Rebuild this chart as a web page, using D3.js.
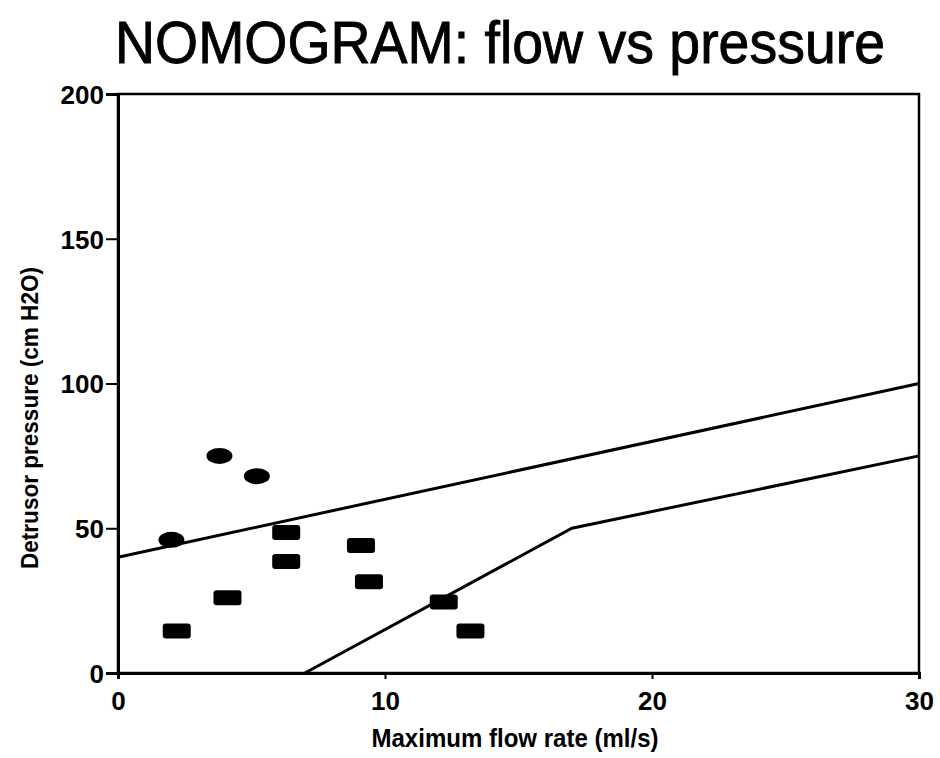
<!DOCTYPE html>
<html>
<head>
<meta charset="utf-8">
<script src="https://cdn.jsdelivr.net/npm/d3@7"></script>
<style>
  html, body { margin: 0; padding: 0; background: #fff; }
  svg { display: block; }
  text { font-family: "Liberation Sans", Arial, Helvetica, sans-serif; fill: #000; }
</style>
</head>
<body>
<svg id="chart" width="940" height="758"></svg>
<script>
// ---- data ----
const xTickValues = [0, 10, 20, 30];
const yTickValues = [0, 50, 100, 150, 200];

const upperLineX = [0, 30];
const upperLineY = [40, 100];

const lowerLineX = [7, 17, 30];
const lowerLineY = [0, 50, 75];

const ovalX = [2.0, 3.8, 5.2];
const ovalY = [46, 75, 68];

const barX = [2.2, 4.1, 6.3, 6.3, 9.1, 9.4, 12.2, 13.2];
const barY = [14.5, 26, 48.5, 38.5, 44, 31.5, 24.5, 14.5];

const titleText = "NOMOGRAM: flow vs pressure";
const xLabel = "Maximum flow rate (ml/s)";
const yLabel = "Detrusor pressure (cm H2O)";

// ---- layout ----
const svg = d3.select("#chart");
const plotL = 118, plotR = 919, plotT = 94, plotB = 673;

const x = d3.scaleLinear().domain([0, 30]).range([plotL, plotR]);
const y = d3.scaleLinear().domain([0, 200]).range([plotB, plotT]);

// title
svg.append("text")
  .attr("x", 500).attr("y", 63)
  .attr("text-anchor", "middle")
  .attr("font-size", 59)
  .attr("stroke", "#000").attr("stroke-width", 0.9)
  .attr("textLength", 770).attr("lengthAdjust", "spacingAndGlyphs")
  .text(titleText);

// frame
svg.append("rect")
  .attr("x", plotL).attr("y", plotT)
  .attr("width", plotR - plotL).attr("height", plotB - plotT)
  .attr("fill", "none").attr("stroke", "#000").attr("stroke-width", 2.5);

// axes
const yAxis = svg.append("g")
  .attr("transform", `translate(${plotL},0)`)
  .call(d3.axisLeft(y).tickValues(yTickValues).tickSize(12).tickPadding(2).tickFormat(d3.format("d")));
const xAxis = svg.append("g")
  .attr("transform", `translate(0,${plotB})`)
  .call(d3.axisBottom(x).tickValues(xTickValues).tickSize(6).tickPadding(13).tickFormat(d3.format("d")));

[xAxis, yAxis].forEach(g => {
  g.select(".domain").attr("stroke-width", 3).attr("stroke", "#000");
  g.selectAll(".tick line").attr("stroke-width", 2).attr("stroke", "#000");
  g.selectAll(".tick text")
    .attr("font-size", 26).attr("font-weight", "bold")
    .attr("font-family", "'Liberation Sans', Arial, sans-serif")
    .attr("fill", "#000");
});
yAxis.selectAll(".tick text").attr("dy", "0.36em");

// axis labels
svg.append("text")
  .attr("x", 515).attr("y", 747)
  .attr("text-anchor", "middle")
  .attr("font-size", 25).attr("font-weight", "bold")
  .attr("textLength", 287).attr("lengthAdjust", "spacingAndGlyphs")
  .text(xLabel);

svg.append("text")
  .attr("transform", "translate(38,418) rotate(-90)")
  .attr("text-anchor", "middle")
  .attr("font-size", 24).attr("font-weight", "bold")
  .attr("textLength", 302).attr("lengthAdjust", "spacingAndGlyphs")
  .text(yLabel);

// nomogram lines
const line = d3.line().x(d => x(d[0])).y(d => y(d[1]));
svg.append("path")
  .datum(upperLineX.map((v, i) => [v, upperLineY[i]]))
  .attr("d", line)
  .attr("fill", "none").attr("stroke", "#000").attr("stroke-width", 3);
svg.append("path")
  .datum(lowerLineX.map((v, i) => [v, lowerLineY[i]]))
  .attr("d", line)
  .attr("fill", "none").attr("stroke", "#000").attr("stroke-width", 3);

// oval markers
svg.append("g").selectAll("ellipse")
  .data(ovalX.map((v, i) => [v, ovalY[i]]))
  .join("ellipse")
  .attr("cx", d => x(d[0])).attr("cy", d => y(d[1]))
  .attr("rx", 13).attr("ry", 8)
  .attr("fill", "#000");

// bar markers
const bw = 28, bh = 15;
svg.append("g").selectAll("rect")
  .data(barX.map((v, i) => [v, barY[i]]))
  .join("rect")
  .attr("x", d => x(d[0]) - bw / 2).attr("y", d => y(d[1]) - bh / 2)
  .attr("width", bw).attr("height", bh)
  .attr("rx", 3).attr("ry", 3)
  .attr("fill", "#000");
</script>
</body>
</html>
